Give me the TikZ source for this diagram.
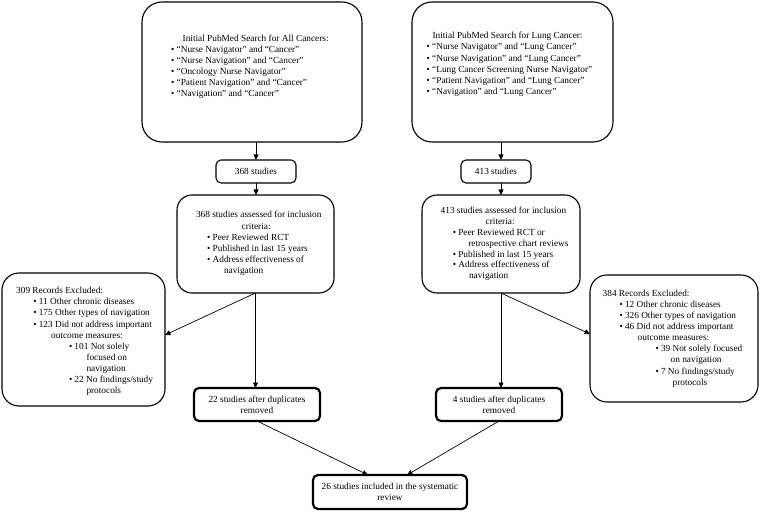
\documentclass[tikz,border=0pt]{standalone}
\usepackage{fontspec}
\setmainfont{Liberation Serif}
\usetikzlibrary{arrows.meta}
\newcommand{\TL}[2]{\par\noindent\hspace*{#1pt}\rule{0pt}{7pt}\mbox{#2}}
\newcommand{\BL}[2]{\par\noindent\hspace*{#1pt}\rule{0pt}{7pt}\makebox[5.5pt][l]{\textbullet}\mbox{#2}}
\newcommand{\boxtext}[5]{\parbox[c][#2pt][t]{#1pt}{\fontsize{9.3}{#3}\selectfont\parindent=0pt\vspace*{#4pt}#5\par}}
\begin{document}
\begin{tikzpicture}[x=1pt,y=-1pt,
  bx/.style={draw, line width=1.1pt, inner sep=0pt, outer sep=0pt},
  smallbx/.style={bx, rounded corners=5pt, font=\fontsize{9.3}{11.1}\selectfont},
  thickbx/.style={draw, line width=2.2pt, rounded corners=5pt, inner sep=0pt, outer sep=0pt, align=center, font=\fontsize{9.3}{11.1}\selectfont},
  arr/.style={line width=0.7pt, -{Triangle[length=5.5pt,width=5pt]}}]
\useasboundingbox (0,0) rectangle (760,513);

\node[bx, rounded corners=20pt] (A) at (252,72) {\boxtext{220}{140}{11.1}{32.3}{%
\TL{40.7}{Initial PubMed Search for All Cancers:}
\BL{29.2}{“Nurse Navigator” and “Cancer”}
\BL{29.2}{“Nurse Navigation” and “Cancer”}
\BL{29.2}{“Oncology Nurse Navigator”}
\BL{29.2}{“Patient Navigation” and “Cancer”}
\BL{29.2}{“Navigation” and “Cancer”}}};

\node[bx, rounded corners=20pt] (B) at (512.5,72) {\boxtext{201}{140}{11.2}{29.7}{%
\TL{20.5}{Initial PubMed Search for Lung Cancer:}
\BL{14.7}{“Nurse Navigator” and “Lung Cancer”}
\BL{14.7}{“Nurse Navigation” and “Lung Cancer”}
\BL{14.7}{“Lung Cancer Screening Nurse Navigator”}
\BL{14.7}{“Patient Navigation” and “Lung Cancer”}
\BL{14.7}{“Navigation” and “Lung Cancer”}}};

\node[smallbx, minimum width=80pt, minimum height=23pt] (S1) at (256,171.5) {368 studies};
\node[smallbx, minimum width=70pt, minimum height=23pt] (S2) at (496,171.5) {413 studies};

\node[bx, rounded corners=15pt] (C1) at (255.5,244) {\boxtext{157}{98}{11.1}{16}{%
\TL{19}{368 studies assessed for inclusion}
\TL{64.7}{criteria:}
\BL{30.2}{Peer Reviewed RCT}
\BL{30.2}{Published in last 15 years}
\BL{30.2}{Address effectiveness of}
\TL{47}{navigation}}};

\node[bx, rounded corners=15pt] (C2) at (501,244) {\boxtext{158}{98}{10.85}{11.7}{%
\TL{18.7}{413 studies assessed for inclusion}
\TL{63.7}{criteria:}
\BL{30.8}{Peer Reviewed RCT or}
\TL{46.3}{retrospective chart reviews}
\BL{30.8}{Published in last 15 years}
\BL{30.8}{Address effectiveness of}
\TL{47}{navigation}}};

\node[bx, rounded corners=17pt] (E1) at (83.5,339.5) {\boxtext{163}{133}{11.1}{13.7}{%
\TL{14.2}{309 Records Excluded:}
\BL{31.3}{11 Other chronic diseases}
\BL{31.3}{175 Other types of navigation}
\BL{31.3}{123 Did not address important}
\TL{49.2}{outcome measures:}
\BL{67}{101 Not solely}
\TL{84.5}{focused on}
\TL{84.5}{navigation}
\BL{67}{22 No findings/study}
\TL{84.5}{protocols}}};

\node[bx, rounded corners=17pt] (E2) at (674,338.5) {\boxtext{168}{127}{11.16}{14}{%
\TL{12.7}{384 Records Excluded:}
\BL{29.5}{12 Other chronic diseases}
\BL{29.5}{326 Other types of navigation}
\BL{29.5}{46 Did not address important}
\TL{47.7}{outcome measures:}
\BL{65.5}{39 Not solely focused}
\TL{80.7}{on navigation}
\BL{65.5}{7 No findings/study}
\TL{82.7}{protocols}}};

\node[thickbx, minimum width=126pt, minimum height=33pt] (D1) at (257,404.5) {22 studies after duplicates\\removed};
\node[thickbx, minimum width=126pt, minimum height=33pt] (D2) at (499,404.5) {4 studies after duplicates\\removed};
\node[thickbx, minimum width=154pt, minimum height=34pt] (F) at (390,492) {26 studies included in the systematic\\review};

\draw[arr] (S1.north |- A.south) -- (S1.north);
\draw[arr] (S1.south) -- (S1.south |- C1.north);
\draw[arr] (C1.south) -- ([yshift=4.5pt]E1.east);
\draw[arr] (C1.south) -- (C1.south |- D1.north);
\draw[arr] (C2.north |- B.south) -- (C2.north |- S2.north);
\draw[arr] (C2.north |- S2.south) -- (C2.north);
\draw[arr] (C2.south) -- ([yshift=4.5pt]E2.west);
\draw[arr] (C2.south) -- (C2.south |- D2.north);
\draw[arr] (D1.south) -- ([xshift=-22pt]F.north);
\draw[arr] (D2.south) -- ([xshift=17pt]F.north);
\end{tikzpicture}
\end{document}
